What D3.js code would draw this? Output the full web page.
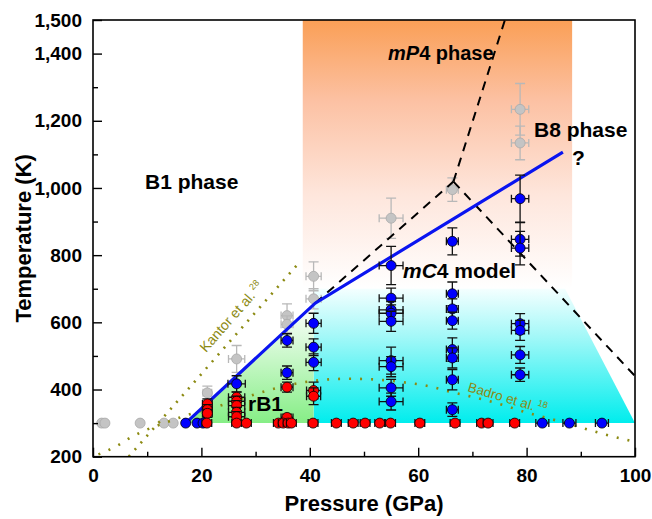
<!DOCTYPE html>
<html>
<head>
<meta charset="utf-8">
<script src="https://cdn.jsdelivr.net/npm/d3@7"></script>
<style>
  body { margin: 0; background: #fff; }
  svg { font-family: "Liberation Sans", Arial, sans-serif; }
  .axis text { font-weight: bold; font-size: 19px; fill: #000; }
  .axis path { display: none; }
  .axis line { stroke: #000; stroke-width: 1.4; }
</style>
</head>
<body>
<svg id="chart" width="652" height="519"></svg>
<script>
// [pressure GPa, temperature K, +/- GPa, +/- K]
var greyPoints = [
    [1.6, 300, 0, 0], [2.2, 300, 0, 0], [8.7, 300, 0, 0], [13.1, 300, 0, 0], [14.8, 300, 0, 0],
    [21.1, 390, 0.8, 20], [26.5, 491, 1.5, 40],
    [35.8, 620, 1.1, 35], [35.8, 594, 1.1, 25],
    [40.7, 737, 1.4, 43], [40.7, 670, 1.4, 30],
    [55.0, 910, 2.2, 60], [66.3, 995, 1.1, 35],
    [78.8, 1234, 1.6, 77], [78.8, 1134, 1.6, 50]
];
var bluePoints = [
    [17.1, 300, 0, 0], [19.2, 300, 0, 0], [20.3, 300, 0, 0],
    [26.5, 417, 1.6, 24],
    [35.8, 546, 1.1, 20], [35.8, 450, 1.1, 20],
    [40.7, 597, 1.4, 30], [40.7, 526, 1.4, 25], [40.7, 481, 1.4, 25],
    [55.0, 769, 2.2, 57], [55.0, 672, 2.2, 30], [55.0, 637, 2.2, 25], [55.0, 627, 2.2, 25],
    [55.0, 603, 2.2, 30], [55.0, 486, 2.2, 40], [55.0, 468, 2.2, 30], [55.0, 405, 2.2, 25],
    [55.0, 364, 2.2, 25],
    [66.3, 841, 1.1, 40], [66.3, 685, 1.1, 35], [66.3, 640, 1.1, 30], [66.3, 605, 1.1, 25],
    [66.3, 519, 1.1, 35], [66.3, 494, 1.1, 30], [66.3, 429, 1.1, 30], [66.3, 340, 1.1, 20],
    [78.8, 968, 1.6, 70], [78.8, 847, 1.6, 50], [78.8, 821, 1.6, 50], [78.8, 596, 1.6, 30],
    [78.8, 576, 1.6, 30], [78.8, 503, 1.6, 25], [78.8, 444, 1.6, 20],
    [82.9, 300, 1.2, 0], [87.9, 300, 1.2, 0], [93.9, 300, 1.2, 0]
];
var redPoints = [
    [21.1, 357, 0.9, 15], [21.1, 340, 0.9, 15], [21.1, 329, 0.9, 12],
    [26.5, 377, 1.5, 15], [26.5, 365, 1.5, 15], [26.5, 352, 1.5, 15], [26.5, 332, 1.5, 15],
    [26.5, 319, 1.5, 15],
    [35.8, 407, 1.1, 15], [35.8, 317, 1.1, 10],
    [40.7, 397, 1.3, 25], [40.7, 380, 1.3, 25]
];
var redRowPressures = [21.0, 26.5, 28.3, 34.2, 35.1, 36.0, 36.6, 40.6, 44.9, 48.0, 50.2,
    52.9, 54.9, 60.3, 66.8, 71.7, 72.9, 77.8];
var redRowTemperature = 300;

var blueBoundary = [[17.1, 300], [41.0, 657], [86.7, 1107]];
var dashedLeft = [[41.0, 657], [66.5, 1019]];
var dashedUp = [[66.5, 1019], [76.0, 1500]];
var dashedDown = [[66.5, 1019], [100, 440]];
var kantorLine = [[6.6, 200], [37.6, 770]];
var badroCurve = [[1, 207], [2.2, 215], [4.6, 234], [6.6, 254], [9, 274], [14, 305], [19, 332],
    [23.1, 350], [25.4, 362], [32.2, 397], [37, 416], [42, 428], [47, 432], [52, 430],
    [57, 422], [61, 413], [66.3, 392], [70.8, 375], [75.6, 354], [80.3, 330], [85, 310],
    [89.6, 289], [94.3, 267], [99, 248], [100, 244]];

var mP4Region = [[38.7, 1500], [88.4, 1500], [88.4, 700], [38.7, 700]];
var mC4Region = [[40.7, 700], [87.1, 700], [100, 300], [40.7, 300]];
var rB1Region = [[17.1, 300], [40.7, 652], [40.7, 300]];

var xMajorTicks = [0, 20, 40, 60, 80, 100];
var xMinorTicks = [10, 30, 50, 70, 90];
var yMajorTicks = [200, 400, 600, 800, 1000, 1200, 1400, 1500];
var yMinorTicks = [300, 500, 700, 900, 1100, 1300];

(function (d3) {
    'use strict';

    var svg = d3.select('#chart'),
        left = 93, right = 635, top = 20, bottom = 456.7,
        x = d3.scaleLinear().domain([0, 100]).range([left, right]),
        y = d3.scaleLinear().domain([200, 1500]).range([bottom, top]),
        olive = '#8c8a12',
        defs = svg.append('defs'),
        plot, line;

    function gradient(id, stops) {
        var g = defs.append('linearGradient').attr('id', id)
            .attr('x1', 0).attr('y1', 0).attr('x2', 0).attr('y2', 1);
        stops.forEach(function (s) {
            g.append('stop').attr('offset', s[0]).attr('stop-color', s[1]);
        });
    }

    gradient('orange', [[0, '#fa9f56'], [0.3, '#fcc1a3'], [0.65, '#fee6dc'], [1, '#ffffff']]);
    gradient('cyan', [[0, '#f4ffff'], [0.35, '#a4f8f8'], [1, '#00eded']]);
    gradient('green', [[0, '#ffffff'], [1, '#86ee86']]);

    defs.append('clipPath').attr('id', 'plot-clip')
        .append('rect').attr('x', left).attr('y', top)
        .attr('width', right - left).attr('height', bottom - top);

    plot = svg.append('g').attr('clip-path', 'url(#plot-clip)');
    line = d3.line().x(function (d) { return x(d[0]); }).y(function (d) { return y(d[1]); });

    plot.append('path').attr('d', line(mP4Region) + 'Z').attr('fill', 'url(#orange)');
    plot.append('path').attr('d', line(mC4Region) + 'Z').attr('fill', 'url(#cyan)');
    plot.append('path').attr('d', line(rB1Region) + 'Z').attr('fill', 'url(#green)');

    drawPoints(greyPoints, '#c4c4c4', '#aaaaaa', '#b8b8b8');

    [dashedLeft, dashedUp, dashedDown].forEach(function (seg) {
        plot.append('path').attr('d', line(seg)).attr('fill', 'none')
            .attr('stroke', '#000').attr('stroke-width', 2)
            .attr('stroke-dasharray', '9,7');
    });

    plot.append('path').attr('d', line(kantorLine)).attr('fill', 'none')
        .attr('stroke', olive).attr('stroke-width', 2.6)
        .attr('stroke-dasharray', '2,7');
    plot.append('path').attr('d', line.curve(d3.curveMonotoneX)(badroCurve)).attr('fill', 'none')
        .attr('stroke', olive).attr('stroke-width', 2.6)
        .attr('stroke-dasharray', '2,9');
    line.curve(d3.curveLinear);

    plot.append('path').attr('d', line(blueBoundary)).attr('fill', 'none')
        .attr('stroke', '#0a14f0').attr('stroke-width', 3.2);

    drawPoints(bluePoints, '#0000ff', '#000', '#111');
    drawPoints(redPoints, '#ff0000', '#000', '#111');
    drawPoints(redRowPressures.map(function (p) { return [p, redRowTemperature, 0.9, 0]; }),
        '#ff0000', '#000', '#111');

    function drawPoints(data, fill, stroke, barColor) {
        var g = plot.append('g'),
            pts = g.selectAll('g.pt').data(data).enter().append('g').attr('class', 'pt');

        pts.filter(function (d) { return d[3] > 0; }).each(function (d) {
            var s = d3.select(this), cx = x(d[0]), y1 = y(d[1] + d[3]), y2 = y(d[1] - d[3]);
            s.append('line').attr('x1', cx).attr('x2', cx).attr('y1', y1).attr('y2', y2);
            s.append('line').attr('x1', cx - 5).attr('x2', cx + 5).attr('y1', y1).attr('y2', y1);
            s.append('line').attr('x1', cx - 5).attr('x2', cx + 5).attr('y1', y2).attr('y2', y2);
        });
        pts.filter(function (d) { return d[2] > 0; }).each(function (d) {
            var s = d3.select(this), cy = y(d[1]), x1 = x(d[0] - d[2]), x2 = x(d[0] + d[2]);
            s.append('line').attr('x1', x1).attr('x2', x2).attr('y1', cy).attr('y2', cy);
            s.append('line').attr('x1', x1).attr('x2', x1).attr('y1', cy - 4).attr('y2', cy + 4);
            s.append('line').attr('x1', x2).attr('x2', x2).attr('y1', cy - 4).attr('y2', cy + 4);
        });
        pts.selectAll('line').attr('stroke', barColor).attr('stroke-width', 1.3);

        pts.append('circle')
            .attr('cx', function (d) { return x(d[0]); })
            .attr('cy', function (d) { return y(d[1]); })
            .attr('r', 5)
            .attr('fill', fill)
            .attr('stroke', stroke)
            .attr('stroke-width', 0.8);
    }

    // axes: ticks point inward
    svg.append('g').attr('class', 'axis').attr('transform', 'translate(0,' + bottom + ')')
        .call(d3.axisBottom(x).tickValues(xMinorTicks).tickSize(-5).tickFormat(''));
    svg.append('g').attr('class', 'axis').attr('transform', 'translate(0,' + bottom + ')')
        .call(d3.axisBottom(x).tickValues(xMajorTicks).tickSize(-9).tickPadding(12));
    svg.append('g').attr('class', 'axis').attr('transform', 'translate(' + left + ',0)')
        .call(d3.axisLeft(y).tickValues(yMinorTicks).tickSize(-5).tickFormat(''));
    svg.append('g').attr('class', 'axis').attr('transform', 'translate(' + left + ',0)')
        .call(d3.axisLeft(y).tickValues(yMajorTicks).tickSize(-9).tickPadding(11)
            .tickFormat(d3.format(',')));

    svg.append('rect').attr('x', left).attr('y', top)
        .attr('width', right - left).attr('height', bottom - top)
        .attr('fill', 'none').attr('stroke', '#000').attr('stroke-width', 1.6);

    svg.append('text').attr('x', (left + right) / 2).attr('y', 511)
        .attr('text-anchor', 'middle').attr('font-weight', 'bold').attr('font-size', 22)
        .text('Pressure (GPa)');
    svg.append('text').attr('transform', 'translate(31,' + (top + bottom) / 2 + ') rotate(-90)')
        .attr('text-anchor', 'middle').attr('font-weight', 'bold').attr('font-size', 22)
        .text('Temperature (K)');

    // phase labels
    function label(px, py, parts, size) {
        var t = svg.append('text').attr('x', px).attr('y', py)
            .attr('font-weight', 'bold').attr('font-size', size || 21);
        parts.forEach(function (p) {
            t.append('tspan').attr('font-style', p[1] ? 'italic' : null).text(p[0]);
        });
        return t;
    }

    label(145, 189, [['B1 phase']]);
    label(388, 60, [['mP', true], ['4 phase']], 20);
    label(534, 137, [['B8 phase']]);
    label(572, 165, [['?']]);
    label(403, 278, [['mC', true], ['4 model']]);
    label(248, 411, [['rB1']]);

    var kantor = svg.append('text').attr('fill', olive).attr('font-size', 14)
        .attr('transform', 'translate(206,353) rotate(-48.6)');
    kantor.append('tspan').text('Kantor et al.');
    kantor.append('tspan').attr('font-size', 9).attr('dy', -6).text(' 28');

    var badro = svg.append('text').attr('fill', olive).attr('font-size', 13.5)
        .attr('transform', 'translate(467,391) rotate(16.5)');
    badro.append('tspan').text('Badro et al.');
    badro.append('tspan').attr('font-size', 9).attr('dy', -6).text(' 18');
}(window.d3));
</script>
</body>
</html>
